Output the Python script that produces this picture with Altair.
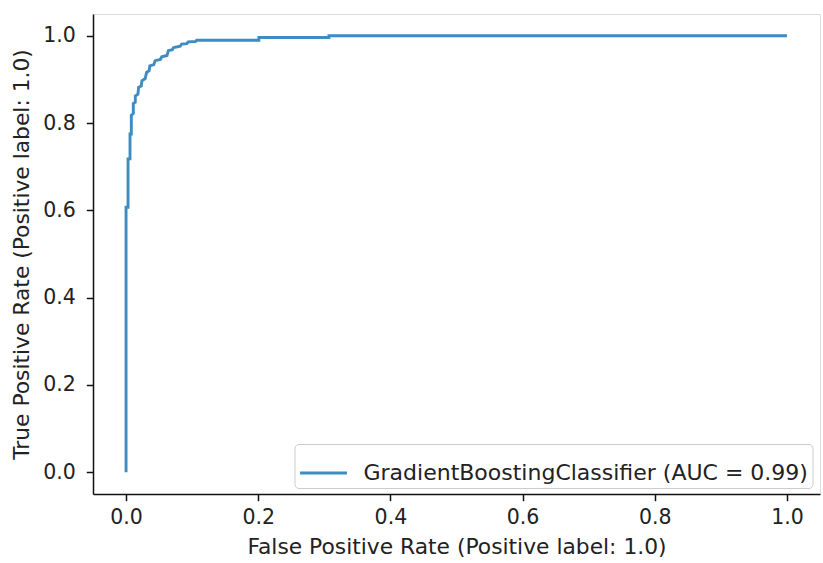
import altair as alt
import pandas as pd

fpr = [0.0, 0.0, 0.003, 0.003, 0.006, 0.006, 0.008, 0.008, 0.011, 0.011, 0.014, 0.014,
       0.018, 0.019, 0.023, 0.024, 0.029, 0.031, 0.035, 0.036, 0.042, 0.044, 0.052, 0.054,
       0.062, 0.064, 0.070, 0.072, 0.082, 0.084, 0.092, 0.094, 0.105, 0.107, 0.201, 0.201,
       0.307, 0.307, 1.0]
tpr = [0.0, 0.607, 0.607, 0.718, 0.718, 0.775, 0.775, 0.818, 0.822, 0.845, 0.848, 0.862,
       0.866, 0.882, 0.885, 0.897, 0.902, 0.916, 0.920, 0.931, 0.934, 0.943, 0.946, 0.952,
       0.955, 0.966, 0.968, 0.973, 0.976, 0.981, 0.982, 0.986, 0.987, 0.990, 0.990, 0.996,
       0.996, 1.0, 1.0]
series_label = "GradientBoostingClassifier (AUC = 0.99)"
tick_values = [0.0, 0.2, 0.4, 0.6, 0.8, 1.0]

df = pd.DataFrame({"fpr": fpr, "tpr": tpr, "order": list(range(len(fpr))),
                   "series": [series_label] * len(fpr)})

FONT = "DejaVu Sans"
FS = 21.8

axis_common = dict(
    values=tick_values, format=".1f", grid=False,
    domainColor="#111111", domainWidth=1.5,
    tickColor="#111111", tickSize=6.7, tickWidth=1.5,
    labelFont=FONT, labelFontSize=20.5, labelColor="#222222",
    titleFont=FONT, titleFontSize=FS, titleFontWeight="normal", titleColor="#222222",
)

chart = alt.Chart(df).mark_line(strokeWidth=2.9, opacity=0.85).encode(
    x=alt.X("fpr:Q", scale=alt.Scale(domain=[-0.05, 1.05], nice=False, zero=False),
            axis=alt.Axis(title="False Positive Rate (Positive label: 1.0)", titlePadding=8,
                          labelPadding=7, **axis_common)),
    y=alt.Y("tpr:Q", scale=alt.Scale(domain=[-0.05, 1.05], nice=False, zero=False),
            axis=alt.Axis(title="True Positive Rate (Positive label: 1.0)", titlePadding=9,
                          labelPadding=11, **axis_common)),
    order="order:Q",
    color=alt.Color("series:N", scale=alt.Scale(range=["#1f77b4"]),
                    legend=alt.Legend(title=None, orient="none", legendX=201.5, legendY=430,
                                      symbolType="stroke", symbolSize=2200,
                                      symbolStrokeWidth=2.9, labelFont=FONT,
                                      labelFontSize=22, labelColor="#222222", labelLimit=0,
                                      labelOffset=15, padding=4,
                                      strokeColor="#cccccc", fillColor="white",
                                      cornerRadius=4)),
).properties(
    width=727, height=480,
    autosize=alt.AutoSizeParams(type="none"),
    padding={"left": 93, "top": 14, "right": 3, "bottom": 69},
).configure_view(
    stroke="#111111", strokeWidth=1.5
).configure(background="white")

chart.save("out.html", embed_options={"renderer": "svg", "actions": False})
